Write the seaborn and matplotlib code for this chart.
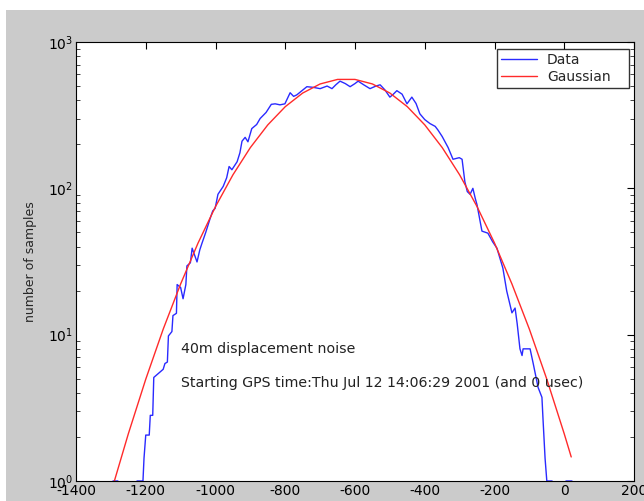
import numpy as np
import pandas as pd
import matplotlib
matplotlib.use("Agg")
import matplotlib.pyplot as plt
from matplotlib.patches import Rectangle
from matplotlib.ticker import LogLocator, FixedLocator
import seaborn as sns

# ---- data ----
data_x = [-1294, -1280, -1275, -1230, -1225, -1208, -1205, -1200, -1190, -1187, -1180, -1177,
          -1165, -1150, -1145, -1138, -1135, -1125, -1122, -1112, -1110, -1100, -1093, -1085,
          -1082, -1072, -1067, -1060, -1053, -1045, -1039, -1028, -1016, -1008, -1001, -993,
          -978, -968, -961, -953, -938, -930, -924, -915, -907, -896, -882, -872, -855, -840,
          -829, -815, -801, -786, -776, -767, -752, -738, -720, -700, -680, -666, -655, -643,
          -628, -614, -600, -591, -575, -557, -540, -528, -514, -500, -490, -480, -465, -451,
          -437, -425, -414, -400, -385, -370, -362, -350, -333, -319, -301, -293, -285, -278,
          -270, -262, -255, -250, -236, -219, -205, -193, -176, -165, -150, -141, -135, -127,
          -121, -118, -98, -89, -75, -64, -61, -55, -50, -35, -30, 0, 5, 22, 27]
data_y = [1, 1, 0, 0, 1, 1, 1.43, 2.06, 2.06, 2.81, 2.81, 5.1,
          5.4, 5.8, 6.35, 6.5, 9.8, 10.5, 13.5, 14, 22, 21, 17.6, 22,
          29.5, 31, 39, 35, 31.4, 38, 42, 50, 61.6, 70, 73, 91,
          103, 118, 141, 134, 152, 175, 210, 223, 208, 256, 273, 300, 330, 375,
          378, 372, 378, 450, 425, 435, 465, 495, 490, 480, 500, 480, 510, 540,
          520, 495, 520, 540, 510, 480, 500, 510, 470, 420, 440, 465, 440, 378,
          420, 380, 323, 295, 277, 265, 250, 226, 190, 158, 162, 158, 111, 95,
          91, 100, 85, 77, 51, 49.4, 43, 39, 28.5, 19.9, 14.1, 15.2, 11.9, 8.0,
          7.2, 8.0, 8.0, 6.35, 4.36, 3.73, 2.68, 1.43, 1.0, 1.0, 0, 0, 1, 1, 0]

gauss_x = [-1300, -1250, -1200, -1150, -1100, -1050, -1000, -950, -900, -850, -800, -750,
           -700, -650, -600, -550, -500, -450, -400, -350, -300, -250, -200, -150, -100,
           -50, 0, 20]
gauss_y = [0.83, 2.10, 4.96, 10.9, 22.2, 42.3, 75.0, 123.7, 190, 271.5, 361.4, 447.9,
           516.7, 555, 555, 516.7, 447.9, 361.4, 271.5, 190, 123.7, 75.0, 42.3, 22.2, 10.9,
           4.96, 2.10, 1.46]

x_ticks = [-1400, -1200, -1000, -800, -600, -400, -200, 0, 200]
y_ticks = [1, 10, 100, 1000]
y_tick_labels = [r"$10^0$", r"$10^1$", r"$10^2$", r"$10^3$"]

series_labels = ["Data", "Gaussian"]
annot_lines = ["40m displacement noise",
               "Starting GPS time:Thu Jul 12 14:06:29 2001 (and 0 usec)"]
annot_x = -1100
annot_y = [8.0, 4.7]

# ---- figure ----
sns.set_style("white")
plt.rcParams["font.family"] = ["DejaVu Sans"]
plt.rcParams["axes.unicode_minus"] = False

fig = plt.figure(figsize=(6.44, 5.01), dpi=100)
fig.patch.set_facecolor("white")
bg = Rectangle((6 / 644, 0), 1 - 6 / 644, 1 - 10 / 501,
               transform=fig.transFigure, facecolor="#cbcbcb",
               edgecolor="none", zorder=-10)
fig.patches.append(bg)
ax = fig.add_axes([76 / 644, 1 - 481 / 501, (634 - 76) / 644, (481 - 42) / 501])
ax.set_zorder(5)
ax.set_facecolor("white")

df_data = pd.DataFrame({"x": data_x, "y": data_y})
df_gauss = pd.DataFrame({"x": gauss_x, "y": gauss_y})

sns.lineplot(data=df_data, x="x", y="y", ax=ax, color="#2a2aff", linewidth=1.0,
             estimator=None, sort=False, label=series_labels[0])
sns.lineplot(data=df_gauss, x="x", y="y", ax=ax, color="#ff2a2a", linewidth=1.0,
             estimator=None, sort=False, label=series_labels[1])

ax.set_yscale("log")
ax.set_xlim(-1400, 200)
ax.set_ylim(1, 1000)
ax.set_xticks(x_ticks)
ax.set_xticklabels([str(v) for v in x_ticks])
ax.yaxis.set_major_locator(FixedLocator(y_ticks))
ax.set_yticklabels(y_tick_labels)
ax.yaxis.set_minor_locator(LogLocator(base=10, subs=np.arange(2, 10)))

ax.tick_params(axis="both", which="major", direction="in", length=5, width=0.8,
               top=True, right=True, labelsize=10, colors="black", pad=2)
ax.tick_params(axis="y", which="minor", direction="in", length=3, width=0.6,
               left=True, right=True)
for s in ax.spines.values():
    s.set_visible(True)
    s.set_color("black")
    s.set_linewidth(0.8)

ax.set_xlabel("")
ax.set_ylabel("number of samples", fontsize=9, labelpad=8)

for t, yv in zip(annot_lines, annot_y):
    ax.text(annot_x, yv, t, fontsize=10.2, va="center", ha="left", color="#222222")

lx0 = (497 - 76) / 558
lw = (629 - 497) / 558
ly0 = (481 - 90) / 439
lh = (90 - 49) / 439
leg = ax.legend(loc="upper left", mode="expand", frameon=True, fancybox=False,
                fontsize=10, borderpad=0.3, handlelength=2.6, handletextpad=0.7,
                labelspacing=0.2, borderaxespad=0,
                bbox_to_anchor=(lx0, ly0, lw, lh))
leg.get_frame().set_edgecolor("black")
leg.get_frame().set_linewidth(1.0)

fig.savefig("out.png", dpi=100, facecolor=fig.get_facecolor())
